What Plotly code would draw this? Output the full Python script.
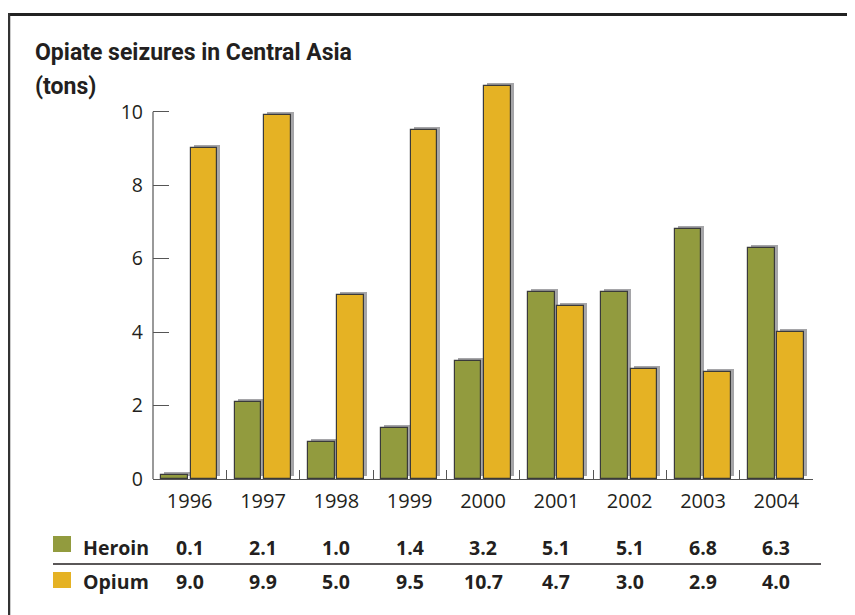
import plotly.graph_objects as go

years = ["1996", "1997", "1998", "1999", "2000", "2001", "2002", "2003", "2004"]
heroin = [0.1, 2.1, 1.0, 1.4, 3.2, 5.1, 5.1, 6.8, 6.3]
opium = [9.0, 9.9, 5.0, 9.5, 10.7, 4.7, 3.0, 2.9, 4.0]
heroin_labels = ["0.1", "2.1", "1.0", "1.4", "3.2", "5.1", "5.1", "6.8", "6.3"]
opium_labels = ["9.0", "9.9", "5.0", "9.5", "10.7", "4.7", "3.0", "2.9", "4.0"]
y_ticks = [0, 2, 4, 6, 8, 10]

# page offset (browser body margin)
OFF = 8
W, H = 855 - OFF, 615 - OFF
# plot area in page pixels
L, R, T, B = 153, 813, 75, 479
YMAX = 11.0

GREEN = "#929b3e"
GOLD = "#e5b224"
SHADOW = "#a5a5a8"
OUTLINE = "#3a3a3a"
TEXT = "#231f20"
TITLE_FONT = "Roboto, sans-serif"


def xp(px):
    return (px - L) / (R - L)


def yp(py):
    return (B - py) / (B - T)


unit_px = (B - T) / YMAX
cat_px = (R - L) / len(years)
dy = 3 / unit_px
dx = 3 / cat_px
bw = 0.36
off_h = -0.385
off_o = 0.015

fig = go.Figure()
for vals, off in [(heroin, off_h), (opium, off_o)]:
    fig.add_trace(go.Bar(
        x=years, y=vals, base=[dy] * len(vals), width=[bw] * len(vals),
        offset=[off + dx] * len(vals),
        marker=dict(color=SHADOW, line=dict(width=0)),
        hoverinfo="skip", showlegend=False,
    ))
for name, vals, off, col in [("Heroin", heroin, off_h, GREEN), ("Opium", opium, off_o, GOLD)]:
    fig.add_trace(go.Bar(
        x=years, y=vals, name=name, width=[bw] * len(vals),
        offset=[off] * len(vals),
        marker=dict(color=col, line=dict(color=OUTLINE, width=1.2)),
        showlegend=False,
    ))

shapes = []
# y axis line from 0 to 10
shapes.append(dict(type="line", xref="paper", yref="y", x0=0, x1=0, y0=0, y1=10,
                   line=dict(color="#555555", width=1.2)))
# frame
shapes.append(dict(type="line", xref="paper", yref="paper", x0=xp(8), x1=xp(860),
                   y0=yp(14.5), y1=yp(14.5), line=dict(color="#222222", width=3)))
shapes.append(dict(type="line", xref="paper", yref="paper", x0=xp(9), x1=xp(9),
                   y0=yp(13), y1=yp(620), line=dict(color="#333333", width=2.5)))
# table separator
shapes.append(dict(type="line", xref="paper", yref="paper", x0=xp(53), x1=xp(821),
                   y0=yp(564), y1=yp(564), line=dict(color="#231f20", width=1.3)))
# legend squares
shapes.append(dict(type="rect", xref="paper", yref="paper", x0=xp(53), x1=xp(71),
                   y0=yp(536), y1=yp(552), fillcolor=GREEN, line=dict(width=0)))
shapes.append(dict(type="rect", xref="paper", yref="paper", x0=xp(53), x1=xp(71),
                   y0=yp(572), y1=yp(588), fillcolor=GOLD, line=dict(width=0)))

ann = []
ann.append(dict(text="Opiate seizures in Central Asia", xref="paper", yref="paper",
                x=xp(33), y=yp(52.5), xanchor="left", yanchor="middle", showarrow=False,
                font=dict(family=TITLE_FONT, size=23, color=TEXT, weight="bold")))
ann.append(dict(text="(tons)", xref="paper", yref="paper",
                x=xp(33), y=yp(86), xanchor="left", yanchor="middle", showarrow=False,
                font=dict(family=TITLE_FONT, size=23, color=TEXT, weight="bold")))
tfont = dict(family="Open Sans", size=19.5, color=TEXT, weight="bold")
for label, py in [("Heroin", 547), ("Opium", 581)]:
    ann.append(dict(text=label, xref="paper", yref="paper", x=xp(81), y=yp(py),
                    xanchor="left", yanchor="middle", showarrow=False, font=tfont))
for labels, py in [(heroin_labels, 547), (opium_labels, 581)]:
    for i, lab in enumerate(labels):
        ann.append(dict(text=lab, xref="x", yref="paper", x=i, y=yp(py),
                        xanchor="center", yanchor="middle", showarrow=False, font=tfont))

fig.update_layout(
    width=W, height=H,
    margin=dict(l=L - OFF, r=855 - R, t=T - OFF, b=615 - B, pad=0),
    paper_bgcolor="white", plot_bgcolor="white",
    barmode="overlay", bargap=0,
    showlegend=False,
    shapes=shapes, annotations=ann,
    font=dict(family="Open Sans", color=TEXT),
)
fig.update_xaxes(
    type="category", showgrid=False, zeroline=False,
    showline=True, linecolor="#555555", linewidth=1.2,
    ticks="inside", tickson="boundaries", ticklen=9, tickcolor="#555555", tickwidth=1.2,
    tickfont=dict(family="Open Sans", size=20, color=TEXT),
    ticklabelstandoff=4,
    range=[-0.5, len(years) - 0.5],
)
fig.update_yaxes(
    range=[0, YMAX], showgrid=False, zeroline=False, showline=False,
    tickvals=y_ticks, ticktext=[str(v) for v in y_ticks],
    ticks="inside", ticklen=16, tickcolor="#555555", tickwidth=1.2,
    tickfont=dict(family="Open Sans", size=19.5, color=TEXT),
    ticklabelstandoff=9,
)

fig.write_html("out.html")
